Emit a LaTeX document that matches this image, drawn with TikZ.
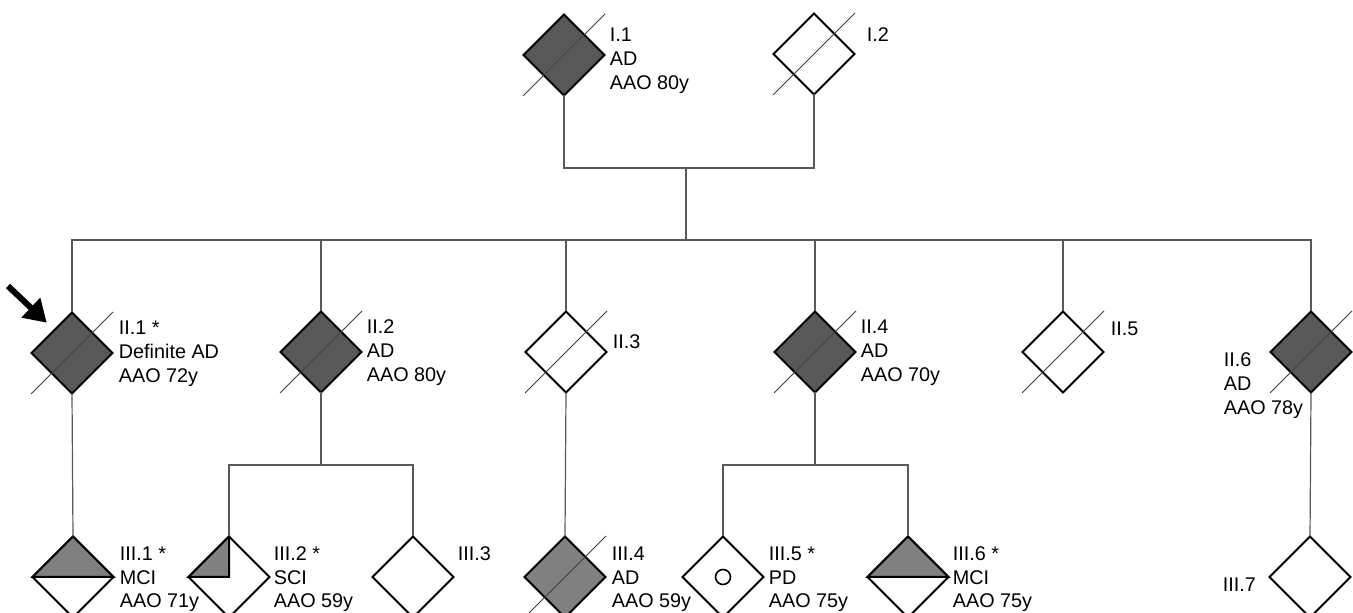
\documentclass[tikz,border=0pt]{standalone}
\usepackage{fontspec}
\setmainfont{Liberation Sans}
\usetikzlibrary{arrows.meta, shapes.geometric, calc}
\definecolor{AffDark}{HTML}{585858}
\definecolor{AffMid}{HTML}{808080}
\newcommand{\deceased}[1]{\draw[dead] ([shift={(-41,41)}]#1.center) -- ([shift={(41,-41)}]#1.center);}

\begin{document}
\begin{tikzpicture}[
    x=0.5pt, y=-0.5pt,
    font=\fontsize{9.9}{12}\selectfont,
    link/.style={draw=black!65, line width=0.6pt},
    indiv/.style={
        diamond, aspect=1, draw=black, line width=1pt,
        minimum width=40.5pt, minimum height=40.5pt,
        inner sep=0pt, outer sep=0pt, fill=white
    },
    aff/.style={fill=AffDark},
    part/.style={fill=AffMid, draw=black, line width=1pt},
    dead/.style={draw=black!75, line width=0.5pt},
    tag/.style={anchor=base west, align=left, inner sep=0pt},
    proband/.style={line width=3pt, -{Triangle[length=11pt, width=13pt]}}
]
    \useasboundingbox (0,0) rectangle (1353,613);

    % Generation I
    \node[indiv, aff] (i1) at (564,55) {};
    \node[indiv] (i2) at (814,54) {};

    % Generation II
    \node[indiv, aff] (ii1) at (72,353) {};
    \node[indiv, aff] (ii2) at (321,352) {};
    \node[indiv] (ii3) at (566,352) {};
    \node[indiv, aff] (ii4) at (815,352) {};
    \node[indiv] (ii5) at (1063,352) {};
    \node[indiv, aff] (ii6) at (1311,352) {};

    % Generation III
    \node[indiv] (iii1) at (73,577) {};
    \node[indiv] (iii2) at (229,577) {};
    \node[indiv] (iii3) at (413,577) {};
    \node[indiv, fill=AffMid] (iii4) at (565,577) {};
    \node[indiv] (iii5) at (723,577) {};
    \node[indiv] (iii6) at (908,577) {};
    \node[indiv] (iii7) at (1310,577) {};

    % Partial shading
    \path[part] (iii1.west) -- (iii1.north) -- (iii1.east) -- cycle;
    \path[part] (iii6.west) -- (iii6.north) -- (iii6.east) -- cycle;
    \path[part] (iii2.north) -- (iii2.center) -- (iii2.west) -- cycle;
    \node[circle, draw, line width=0.8pt, minimum size=7.5pt, inner sep=0pt] (pd) at (iii5.center) {};

    % Deceased
    \foreach \n in {i1, i2, ii1, ii2, ii3, ii4, ii5, ii6, iii4} {\deceased{\n}}

    % Lines of descent
    \coordinate (mate) at (686,168);
    \coordinate (sibs) at (686,240);
    \draw[link] (i1.south) |- (mate) -| (i2.south);
    \draw[link] (mate) -- (sibs);
    \draw[link] (ii1.north) |- (sibs) -| (ii6.north);
    \foreach \n in {ii2, ii3, ii4, ii5} {\draw[link] (\n.north) -- (\n.north |- sibs);}
    \coordinate (sibs2) at (321,465);
    \coordinate (sibs4) at (815,465);
    \draw[link] (ii2.south) -- (sibs2);
    \draw[link] (iii2.north) |- (sibs2) -| (iii3.north);
    \draw[link] (ii4.south) -- (sibs4);
    \draw[link] (iii5.north) |- (sibs4) -| (iii6.north);
    \draw[link] (ii1.south) -- (iii1.north);
    \draw[link] (ii3.south) -- (iii4.north);
    \draw[link] (ii6.south) -- (iii7.north);

    % Proband
    \coordinate (pointer) at (8,286);
    \draw[proband] (pointer) -- ([shift={(-5,-10)}]ii1.north west);

    % Labels (base = last line)
    \node[tag] (t-i1) at ([shift={(5,35)}]i1.east) {I.1\\AD\\AAO 80y};
    \node[tag] (t-i2) at ([shift={(12,-12)}]i2.east) {I.2};
    \node[tag] (t-ii1) at ([shift={(6,30)}]ii1.east) {II.1 *\\Definite AD\\AAO 72y};
    \node[tag] (t-ii2) at ([shift={(5,30)}]ii2.east) {II.2\\AD\\AAO 80y};
    \node[tag] (t-ii3) at ([shift={(6,-3)}]ii3.east) {II.3};
    \node[tag] (t-ii4) at ([shift={(5,30)}]ii4.east) {II.4\\AD\\AAO 70y};
    \node[tag] (t-ii5) at ([shift={(7,-16)}]ii5.east) {II.5};
    \node[tag] (t-ii6) at ([shift={(-47,63)}]ii6.west) {II.6\\AD\\AAO 78y};
    \node[tag] (t-iii1) at ([shift={(6,31)}]iii1.east) {III.1 *\\MCI\\AAO 71y};
    \node[tag] (t-iii2) at ([shift={(4,31)}]iii2.east) {III.2 *\\SCI\\AAO 59y};
    \node[tag] (t-iii3) at ([shift={(4,-17)}]iii3.east) {III.3};
    \node[tag] (t-iii4) at ([shift={(6,31)}]iii4.east) {III.4\\AD\\AAO 59y};
    \node[tag] (t-iii5) at ([shift={(5,31)}]iii5.east) {III.5 *\\PD\\AAO 75y};
    \node[tag] (t-iii6) at ([shift={(4,31)}]iii6.east) {III.6 *\\MCI\\AAO 75y};
    \node[tag] (t-iii7) at ([shift={(-47,15)}]iii7.west) {III.7};

\end{tikzpicture}
\end{document}
